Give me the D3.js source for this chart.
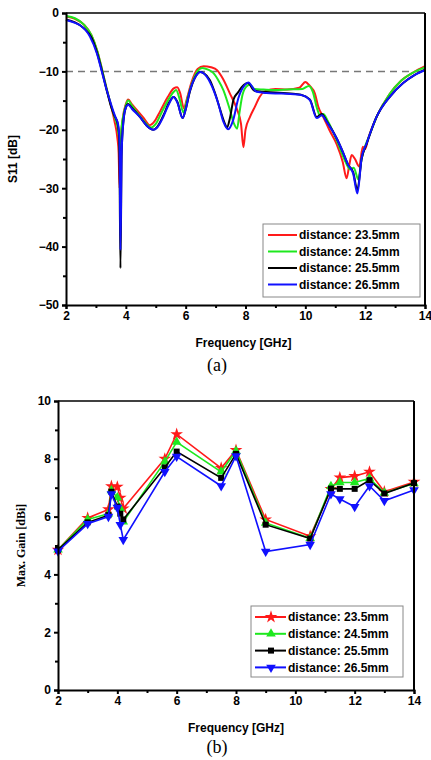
<!DOCTYPE html>
<html>
<head>
<meta charset="utf-8">
<script src="https://cdn.jsdelivr.net/npm/d3@7"></script>
<style>
  body { margin: 0; background: #fff; }
  svg text { font-family: "Liberation Sans", Arial, sans-serif; font-weight: bold; }
</style>
</head>
<body>
<div id="chart"></div>
<script>
// legend labels and colours
var seriesNames = ["distance: 23.5mm", "distance: 24.5mm", "distance: 25.5mm", "distance: 26.5mm"];
var seriesColors = ["#ff1a1a", "#1ee81e", "#000000", "#1010ff"];

// (a) S11 curves, [frequency GHz, dB]
var s11Red = [[2,-0.6],[2.3,-1.0],[2.6,-2.0],[2.85,-3.8],[3.05,-6.6],[3.2,-9.6],[3.35,-12.8],[3.5,-15.8],[3.62,-18.5],[3.72,-21.5],[3.76,-24],[3.79,-30],[3.83,-22],[3.9,-18],[4.0,-15.6],[4.08,-14.8],[4.2,-15.6],[4.4,-16.8],[4.6,-18],[4.8,-19.2],[4.95,-18.6],[5.15,-16.8],[5.4,-14.4],[5.6,-12.9],[5.72,-12.7],[5.82,-13.8],[5.94,-16.3],[6.05,-14.5],[6.2,-11.8],[6.4,-9.6],[6.6,-9.1],[6.85,-9.3],[7.05,-9.8],[7.25,-11.3],[7.48,-13.8],[7.7,-16.3],[7.85,-19],[7.93,-23],[8.0,-20],[8.15,-17.8],[8.32,-16],[8.48,-14.3],[8.7,-13.3],[9.0,-13.0],[9.4,-13.1],[9.8,-12.8],[10.0,-11.8],[10.15,-12.5],[10.32,-13.8],[10.43,-16],[10.6,-17.8],[10.8,-20],[11.05,-22.5],[11.25,-25.5],[11.38,-28.3],[11.47,-26],[11.55,-24.3],[11.66,-25],[11.8,-26.3],[11.92,-22.9],[12.0,-23.3],[12.1,-21.5],[12.4,-17.6],[12.8,-14],[13.2,-11.6],[13.6,-10.2],[14,-9.1]];
var s11Green = [[2,-0.5],[2.3,-0.9],[2.6,-2.0],[2.85,-3.8],[3.05,-6.6],[3.2,-9.6],[3.35,-12.8],[3.5,-15.7],[3.62,-17.8],[3.72,-19.5],[3.78,-22],[3.81,-25],[3.85,-20],[3.92,-17.5],[4.0,-15.8],[4.08,-15.0],[4.2,-15.8],[4.4,-17.2],[4.6,-18.5],[4.85,-19.6],[5.0,-19],[5.2,-17],[5.45,-14.6],[5.6,-13.5],[5.68,-13.2],[5.8,-14.8],[5.92,-17],[6.05,-14.8],[6.2,-12.2],[6.4,-9.9],[6.55,-9.4],[6.75,-9.7],[6.93,-10.3],[7.1,-11.6],[7.26,-13.2],[7.48,-16.6],[7.62,-19],[7.72,-19.8],[7.8,-17],[7.9,-14],[8.05,-12.5],[8.15,-12.3],[8.3,-13],[8.6,-13.1],[9.0,-13.2],[9.4,-13.1],[9.9,-13],[10.12,-12.5],[10.25,-13.5],[10.4,-16.5],[10.5,-17.6],[10.6,-17.3],[10.75,-18.5],[11.05,-21.8],[11.3,-25],[11.5,-26.8],[11.62,-26.5],[11.77,-28.5],[11.88,-25],[12.0,-22.8],[12.1,-21.5],[12.4,-17.6],[12.8,-14],[13.2,-11.6],[13.6,-10.2],[14,-9.3]];
var s11Black = [[2,-1.1],[2.3,-1.6],[2.6,-2.6],[2.85,-4.2],[3.05,-7],[3.2,-9.9],[3.35,-13],[3.5,-15.9],[3.62,-17.6],[3.72,-18.8],[3.78,-21.5],[3.82,-43.7],[3.86,-24],[3.92,-18.5],[4.0,-16.2],[4.08,-15.6],[4.2,-16.2],[4.47,-17.8],[4.7,-19.3],[4.92,-20],[5.05,-19.5],[5.25,-17.6],[5.45,-15.3],[5.6,-14.4],[5.72,-15.2],[5.9,-18],[6.0,-16.5],[6.14,-13.5],[6.3,-11.2],[6.48,-10.1],[6.6,-10.3],[6.81,-11.5],[7.0,-14],[7.15,-16.5],[7.3,-18.8],[7.38,-19.6],[7.48,-18],[7.6,-14.8],[7.75,-13.6],[7.95,-12.3],[8.08,-12],[8.3,-13.3],[8.6,-13.5],[9.0,-13.6],[9.5,-13.8],[9.85,-14],[10.15,-14.8],[10.38,-17.8],[10.55,-17.3],[10.71,-18.5],[11.05,-21.5],[11.27,-24],[11.43,-26],[11.6,-27.3],[11.74,-30.3],[11.88,-25],[12.05,-22.4],[12.38,-17.8],[12.83,-14.3],[13.27,-12],[13.66,-10.6],[14,-9.7]];
var s11Blue = [[2,-1.2],[2.3,-1.7],[2.47,-2.1],[2.8,-4.05],[3.03,-6.9],[3.19,-9.9],[3.36,-13.2],[3.53,-16],[3.65,-17.8],[3.74,-19],[3.79,-22],[3.82,-40.6],[3.86,-24],[3.92,-18.5],[4.0,-16.2],[4.08,-15.7],[4.2,-16.4],[4.47,-17.8],[4.7,-19.3],[4.92,-20],[5.05,-19.6],[5.25,-17.8],[5.45,-15.5],[5.59,-14.4],[5.72,-15.3],[5.9,-18],[6.0,-16.5],[6.14,-13.3],[6.3,-11.2],[6.5,-10.1],[6.62,-10.4],[6.81,-11.8],[7.09,-15.5],[7.26,-18.6],[7.42,-19.9],[7.59,-18.3],[7.76,-14.6],[7.98,-12.3],[8.09,-11.9],[8.37,-13.5],[8.7,-13.7],[9.2,-13.8],[9.82,-14],[10.15,-14.9],[10.38,-18],[10.55,-17.5],[10.71,-18.6],[11.05,-21.5],[11.27,-24],[11.43,-26],[11.6,-27.5],[11.74,-30.9],[11.88,-24.9],[12.05,-22.3],[12.38,-17.8],[12.83,-14.3],[13.27,-12],[13.66,-10.6],[14,-9.8]];
var s11Threshold = -10;

// (b) max gain
var gainFreq  = [2, 3, 3.7, 3.8, 4.0, 4.1, 4.2, 5.6, 6, 7.5, 8, 9, 10.5, 11.2, 11.5, 12, 12.5, 13, 14];
var gainRed   = [4.85, 5.95, 6.25, 7.05, 7.03, 6.65, 6.28, 8.0, 8.85, 7.68, 8.3, 5.9, 5.32, 6.95, 7.35, 7.4, 7.55, 6.86, 7.2];
var gainGreen = [4.85, 5.9, 6.1, 6.9, 6.66, 6.28, 5.82, 7.9, 8.58, 7.55, 8.27, 5.78, 5.25, 7.05, 7.18, 7.18, 7.32, 6.82, 7.15];
var gainBlack = [4.85, 5.8, 6.05, 6.86, 6.35, 6.1, 5.9, 7.7, 8.25, 7.34, 8.17, 5.72, 5.24, 6.97, 6.96, 6.96, 7.26, 6.8, 7.16];
var gainBlue  = [4.8, 5.75, 6.0, 6.78, 6.31, 5.72, 5.2, 7.55, 8.08, 7.06, 8.1, 4.79, 5.03, 6.78, 6.61, 6.34, 7.06, 6.55, 6.92];

var xTicks = [2, 4, 6, 8, 10, 12, 14];

var svg = d3.select("#chart").append("svg")
    .attr("width", 431)
    .attr("height", 760);

// draws ticks, frame and axis labels for one panel
function drawAxes(g, x, y, w, h, yMajor, yMinor) {
  var xMinor = [3, 5, 7, 9, 11, 13];
  g.append("g")
      .attr("transform", "translate(0," + h + ")")
      .call(d3.axisBottom(x).tickValues(xMinor).tickSize(3).tickFormat(""))
      .call(function(a) { a.select(".domain").remove(); });
  g.append("g")
      .attr("transform", "translate(0," + h + ")")
      .call(d3.axisBottom(x).tickValues(xTicks).tickSize(4).tickPadding(2).tickFormat(d3.format("d")))
      .call(function(a) { a.select(".domain").attr("stroke-width", 2); });
  g.append("g")
      .call(d3.axisLeft(y).tickValues(yMinor).tickSize(3).tickFormat(""))
      .call(function(a) { a.select(".domain").remove(); });
  g.append("g")
      .call(d3.axisLeft(y).tickValues(yMajor).tickSize(4).tickPadding(3).tickFormat(d3.format("d")))
      .call(function(a) { a.select(".domain").attr("stroke-width", 2); });
  g.selectAll(".tick line").attr("stroke-width", 2);
  g.selectAll(".tick text").style("font-size", "12px").attr("fill", "#000");
  // top + right frame
  g.append("line").attr("x1", 0).attr("x2", w).attr("y1", 0).attr("y2", 0)
      .attr("stroke", "#000").attr("stroke-width", 1.5);
  g.append("line").attr("x1", w).attr("x2", w).attr("y1", 0).attr("y2", h)
      .attr("stroke", "#000").attr("stroke-width", 2);
}

// ---------- (a) S11 ----------
var m1 = {left: 66, top: 13}, w1 = 359, h1 = 292;
var x1 = d3.scaleLinear().domain([2, 14]).range([0, w1]);
var y1 = d3.scaleLinear().domain([-50, 0]).range([h1, 0]);
var g1 = svg.append("g").attr("transform", "translate(" + m1.left + "," + m1.top + ")");

g1.append("line")
    .attr("x1", 0).attr("x2", w1)
    .attr("y1", y1(s11Threshold)).attr("y2", y1(s11Threshold))
    .attr("stroke", "#777").attr("stroke-width", 1.5).attr("stroke-dasharray", "7,5");

var s11Line = d3.line()
    .x(function(d) { return x1(d[0]); })
    .y(function(d) { return y1(d[1]); })
    .curve(d3.curveMonotoneX);

[s11Red, s11Green, s11Black, s11Blue].forEach(function(s, i) {
  g1.append("path")
      .datum(s)
      .attr("d", s11Line)
      .attr("fill", "none")
      .attr("stroke", seriesColors[i])
      .attr("stroke-width", 2);
});

drawAxes(g1, x1, y1, w1, h1, [-50, -40, -30, -20, -10, 0], [-45, -35, -25, -15, -5]);

g1.append("text")
    .attr("transform", "translate(-49," + (h1 / 2) + ") rotate(-90)")
    .attr("text-anchor", "middle")
    .style("font-size", "12px")
    .text("S11 [dB]");
g1.append("text")
    .attr("x", w1 / 2 - 2).attr("y", h1 + 42)
    .attr("text-anchor", "middle")
    .style("font-size", "12px")
    .text("Frequency [GHz]");
svg.append("text")
    .attr("x", 217).attr("y", 371)
    .attr("text-anchor", "middle")
    .style("font-family", "'Liberation Serif', 'Times New Roman', serif")
    .style("font-weight", "normal")
    .style("font-size", "18px")
    .text("(a)");

// legend (a)
var leg1 = svg.append("g").attr("transform", "translate(263,224)");
leg1.append("rect").attr("width", 157).attr("height", 73)
    .attr("fill", "#fff").attr("stroke", "#888").attr("stroke-width", 1);
seriesNames.forEach(function(n, i) {
  var yy = 11 + i * 16.5;
  leg1.append("line").attr("x1", 5).attr("x2", 34).attr("y1", yy).attr("y2", yy)
      .attr("stroke", seriesColors[i]).attr("stroke-width", 2);
  leg1.append("text").attr("x", 36).attr("y", yy).attr("dy", "0.35em")
      .style("font-size", "12px").text(n);
});

// ---------- (b) Max gain ----------
var m2 = {left: 58, top: 401}, w2 = 356, h2 = 289;
var x2 = d3.scaleLinear().domain([2, 14]).range([0, w2]);
var y2 = d3.scaleLinear().domain([0, 10]).range([h2, 0]);
var g2 = svg.append("g").attr("transform", "translate(" + m2.left + "," + m2.top + ")");

var markers = [
  d3.symbol().type(d3.symbolStar).size(50),
  d3.symbol().type(d3.symbolTriangle).size(40),
  d3.symbol().type(d3.symbolSquare).size(36),
  d3.symbol().type(d3.symbolTriangle).size(40)
];
var markerRot = [0, 0, 0, 180];

var gainLine = d3.line()
    .x(function(d) { return x2(d[0]); })
    .y(function(d) { return y2(d[1]); });

[gainRed, gainGreen, gainBlack, gainBlue].forEach(function(vals, i) {
  var pts = gainFreq.map(function(f, j) { return [f, vals[j]]; });
  g2.append("path")
      .datum(pts)
      .attr("d", gainLine)
      .attr("fill", "none")
      .attr("stroke", seriesColors[i])
      .attr("stroke-width", 1.6);
  g2.selectAll(".mk" + i)
      .data(pts)
      .enter().append("path")
      .attr("class", "mk" + i)
      .attr("d", markers[i])
      .attr("fill", seriesColors[i])
      .attr("transform", function(d) {
        return "translate(" + x2(d[0]) + "," + y2(d[1]) + ") rotate(" + markerRot[i] + ")";
      });
});

drawAxes(g2, x2, y2, w2, h2, [0, 2, 4, 6, 8, 10], [1, 3, 5, 7, 9]);

g2.append("text")
    .attr("transform", "translate(-33," + (h2 / 2) + ") rotate(-90)")
    .attr("text-anchor", "middle")
    .style("font-family", "'Liberation Serif', 'Times New Roman', serif")
    .style("font-size", "12px")
    .text("Max. Gain [dBi]");
g2.append("text")
    .attr("x", w2 / 2).attr("y", h2 + 42)
    .attr("text-anchor", "middle")
    .style("font-size", "12px")
    .text("Frequency [GHz]");
svg.append("text")
    .attr("x", 217).attr("y", 753)
    .attr("text-anchor", "middle")
    .style("font-family", "'Liberation Serif', 'Times New Roman', serif")
    .style("font-weight", "normal")
    .style("font-size", "18px")
    .text("(b)");

// legend (b)
var leg2 = svg.append("g").attr("transform", "translate(251,606)");
leg2.append("rect").attr("width", 152).attr("height", 71)
    .attr("fill", "#fff").attr("stroke", "#888").attr("stroke-width", 1);
seriesNames.forEach(function(n, i) {
  var yy = 11 + i * 16.8;
  leg2.append("line").attr("x1", 4).attr("x2", 35).attr("y1", yy).attr("y2", yy)
      .attr("stroke", seriesColors[i]).attr("stroke-width", 2);
  leg2.append("path").attr("d", markers[i]).attr("fill", seriesColors[i])
      .attr("transform", "translate(20," + yy + ") rotate(" + markerRot[i] + ")");
  leg2.append("text").attr("x", 37).attr("y", yy).attr("dy", "0.35em")
      .style("font-size", "12px").text(n);
});
</script>
</body>
</html>
